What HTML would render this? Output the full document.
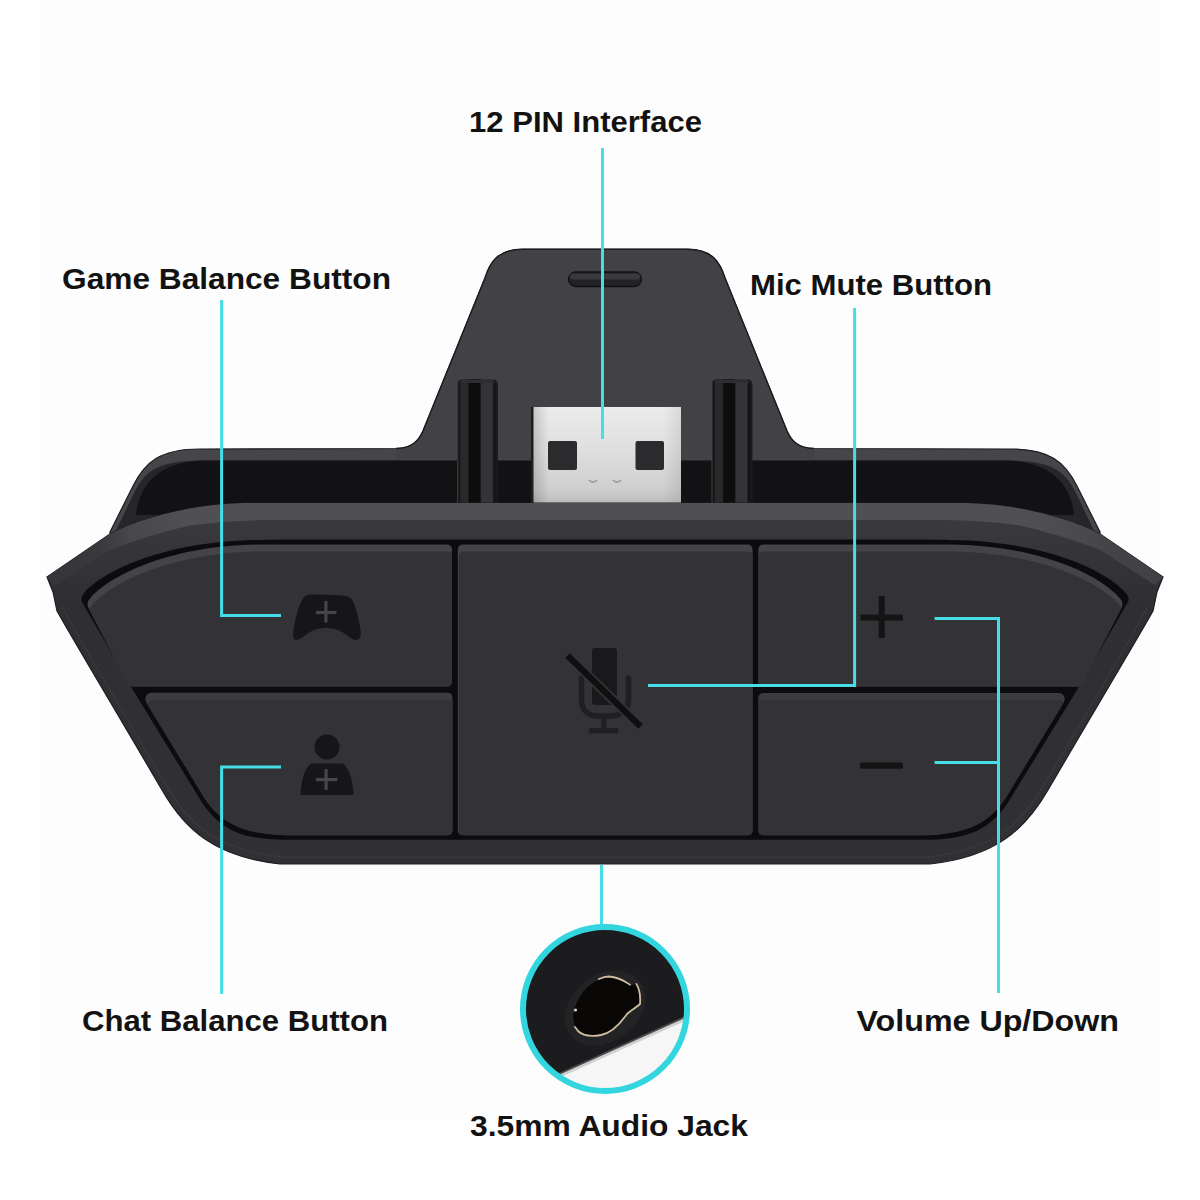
<!DOCTYPE html>
<html>
<head>
<meta charset="utf-8">
<style>
html,body{margin:0;padding:0;background:#fefefe;}
body{width:1200px;height:1200px;overflow:hidden;position:relative;}
svg{position:absolute;left:0;top:0;display:block;}
.lbl{font-family:"Liberation Sans",sans-serif;font-weight:bold;font-size:29px;fill:#121212;}
</style>
</head>
<body>
<svg width="1200" height="1200" viewBox="0 0 1200 1200">
<defs>
  <linearGradient id="usbG" x1="0" y1="0" x2="0" y2="1">
    <stop offset="0" stop-color="#ececec"/>
    <stop offset="0.5" stop-color="#dddddd"/>
    <stop offset="0.85" stop-color="#cfcfcf"/>
    <stop offset="1" stop-color="#bdbdbd"/>
  </linearGradient>
  <linearGradient id="usbH" x1="0" y1="0" x2="1" y2="0">
    <stop offset="0" stop-color="#000" stop-opacity="0.18"/>
    <stop offset="0.12" stop-color="#000" stop-opacity="0"/>
    <stop offset="0.88" stop-color="#000" stop-opacity="0"/>
    <stop offset="1" stop-color="#000" stop-opacity="0.08"/>
  </linearGradient>
  <linearGradient id="pinG" x1="0" y1="0" x2="1" y2="0">
    <stop offset="0" stop-color="#424144"/>
    <stop offset="0.05" stop-color="#121212"/>
    <stop offset="0.1" stop-color="#29292b"/>
    <stop offset="0.26" stop-color="#29292b"/>
    <stop offset="0.3" stop-color="#0d0d0d"/>
    <stop offset="0.56" stop-color="#0d0d0d"/>
    <stop offset="0.6" stop-color="#343337"/>
    <stop offset="0.86" stop-color="#343337"/>
    <stop offset="0.9" stop-color="#131313"/>
    <stop offset="1" stop-color="#1c1c1c"/>
  </linearGradient>
  <linearGradient id="topFace" x1="40" y1="0" x2="1170" y2="0" gradientUnits="userSpaceOnUse">
    <stop offset="0" stop-color="#353438"/>
    <stop offset="0.053" stop-color="#39383c"/>
    <stop offset="0.08" stop-color="#48474b"/>
    <stop offset="0.13" stop-color="#504f53"/>
    <stop offset="0.87" stop-color="#504f53"/>
    <stop offset="0.92" stop-color="#4a494d"/>
    <stop offset="0.947" stop-color="#444347"/>
    <stop offset="1" stop-color="#414044"/>
  </linearGradient>
  <linearGradient id="shellG" x1="0" y1="519" x2="0" y2="864" gradientUnits="userSpaceOnUse">
    <stop offset="0" stop-color="#3a393d"/>
    <stop offset="0.08" stop-color="#363539"/>
    <stop offset="0.25" stop-color="#2f2e32"/>
    <stop offset="1" stop-color="#313034"/>
  </linearGradient>
  <clipPath id="circClip"><circle cx="605" cy="1009" r="80"/></clipPath>
  <!-- buttons -->
  <path id="bG" d="M 90,598.5 C 108,577 167,545.5 260,544.5 C 275,544.5 290,544.5 300,544.5 L 446.5,544.5 Q 452,544.5 452,550 L 452,681 Q 452,686.5 446.5,686.5 L 133,686.5 Q 129,686.5 127,682 L 88,607 Q 86.5,601.5 90,598.5 Z"/>
  <path id="bC" d="M 150,692.7 L 447,692.7 Q 452.5,692.7 452.5,698 L 452.5,830 Q 452.5,835.3 447,835.3 L 285,835.3 C 244,834 222,824 205,799 L 146,702 Q 143.5,695.5 150,692.7 Z"/>
  <path id="bM" d="M 463.2,544.5 L 747.3,544.5 Q 752.6,544.5 752.6,550 L 752.6,830 Q 752.6,835.3 747.3,835.3 L 463.2,835.3 Q 457.8,835.3 457.8,830 L 457.8,550 Q 457.8,544.5 463.2,544.5 Z"/>
  <path id="bVU" d="M 763.7,544.5 L 910,544.5 C 920,544.5 935,544.5 950,544.5 C 1043,545.5 1102,577 1120,598.5 Q 1123.5,601.5 1122,607 L 1083,682 Q 1081,686.5 1077,686.5 L 764,686.5 Q 758.3,686.5 758.3,681 L 758.3,550 Q 758.3,544.5 763.7,544.5 Z"/>
  <path id="bVD" d="M 763.7,693 L 1060,693 Q 1066.5,695.5 1064,702 L 1005,799 C 988,824 966,834 925,835.3 L 763.7,835.3 Q 758.3,835.3 758.3,830 L 758.3,698.5 Q 758.3,693 763.7,693 Z"/>
  <clipPath id="cG"><use href="#bG"/></clipPath>
  <clipPath id="cC"><use href="#bC"/></clipPath>
  <clipPath id="cM"><use href="#bM"/></clipPath>
  <clipPath id="cVU"><use href="#bVU"/></clipPath>
  <clipPath id="cVD"><use href="#bVD"/></clipPath>
</defs>

<rect x="45" y="0" width="1115" height="1114" fill="#fdfdfd"/>

<!-- tower + back body silhouette (rim color) -->
<path d="M 110,532 L 133,486 C 145,462 160,449 200,449 L 396,448.5 C 413,448 419,440 423,431 L 485,278 C 490,262 498,249.5 522,249.3 L 688,249.3 C 712,249.5 720,262 725,278 L 787,431 C 791,440 797,448 814,448.5 L 1010,449 C 1050,449 1065,462 1077,486 L 1100,532 L 1100,600 L 110,600 Z" fill="#464549" stroke="#1d1c1f" stroke-width="1.2"/>
<!-- back body side walls -->
<path d="M 111.5,540 L 136,489 C 148,467 165,460.5 205,460.5 L 1005,460.5 C 1045,460.5 1062,467 1074,489 L 1098.5,540 Z" fill="#262529"/>
<!-- tower face -->
<path d="M 396,461 L 396,448.5 C 413,448 419,440 423,431 L 485,278 C 490,262 498,249.5 522,249.3 L 688,249.3 C 712,249.5 720,262 725,278 L 787,431 C 791,440 797,448 814,448.5 L 814,461 Z" fill="#424145"/>
<path d="M 396,448.5 C 413,448 419,440 423,431 L 485,278 C 490,262 498,249.5 522,249.3 L 688,249.3 C 712,249.5 720,262 725,278 L 787,431 C 791,440 797,448 814,448.5" fill="none" stroke="#1d1c1f" stroke-width="1.4"/>
<!-- recess -->
<path d="M 136,515 C 139,490 152,462 205,460.5 L 1005,460.5 C 1058,462 1071,490 1074,515 Z" fill="#121113"/>
<!-- slot on tower -->
<rect x="568.5" y="272" width="73" height="14.5" rx="7.2" fill="#232226" stroke="#121113" stroke-width="1.3"/>
<rect x="570" y="273.5" width="70" height="6" rx="3" fill="#3a393d"/>

<!-- pins -->
<path d="M 457,386 C 457,380 460,379 466,379 L 489,379 C 495,379 498,380 498,386 L 498,503 L 457,503 Z" fill="url(#pinG)"/>
<path d="M 460,383 C 461,380 463,379.5 467,379.5 L 488,379.5 C 492,379.5 494,380 495,383 Z" fill="#2e2e30"/>
<path d="M 711.5,386 C 711.5,380 714.5,379 720.5,379 L 743.5,379 C 749.5,379 752.5,380 752.5,386 L 752.5,503 L 711.5,503 Z" fill="url(#pinG)"/>
<path d="M 714.5,383 C 715.5,380 717.5,379.5 721.5,379.5 L 742.5,379.5 C 746.5,379.5 748.5,380 749.5,383 Z" fill="#2e2e30"/>

<!-- usb -->
<rect x="531" y="407" width="150" height="96" fill="url(#usbG)"/>
<rect x="531" y="407" width="150" height="96" fill="url(#usbH)"/>
<rect x="531" y="407" width="2.5" height="96" fill="#1e1e1e"/>
<rect x="548" y="441" width="29" height="29" rx="2" fill="#2b2a2c"/>
<rect x="635.5" y="441" width="28.5" height="29" rx="2" fill="#2b2a2c"/>
<path d="M 589,480 q 4,4 8,0" stroke="#9a9a9a" stroke-width="1.5" fill="none"/>
<path d="M 613,480 q 4,4 8,0" stroke="#9a9a9a" stroke-width="1.5" fill="none"/>

<!-- front shell -->
<path d="M 47,577 L 110,534 C 125,526 150,516 190,508.5 C 205,506 220,503.5 250,503 L 960,503 C 990,503.5 1005,506 1020,508.5 C 1060,516 1085,526 1100,534 L 1163,577 L 1157,592 L 1153,611 C 1135,643 1090,718 1048,790 C 1025,830 995,857 930,864 L 280,864 C 215,857 185,830 162,790 C 120,718 75,643 57,611 L 53,592 Z" fill="url(#shellG)" stroke="#1e1d20" stroke-width="1.2"/>
<!-- shell top face -->
<path d="M 47,577 L 110,534 C 125,526 150,516 190,508.5 C 205,506 220,503.5 250,503 L 960,503 C 990,503.5 1005,506 1020,508.5 C 1060,516 1085,526 1100,534 L 1163,577 L 1155,585 L 1100,550 C 1085,544 1060,535 1020,525.5 C 1000,522.5 980,521 950,520 L 260,520 C 230,521 210,522.5 190,525.5 C 150,535 125,544 110,550 L 55,585 Z" fill="url(#topFace)"/>
<!-- side bevel lines -->
<path d="M 62,606 C 80,640 125,716 168,788 C 190,826 218,850 282,857 L 928,857 C 992,850 1020,826 1042,788 C 1085,716 1130,640 1148,606" fill="none" stroke="#39383c" stroke-width="1.5"/>

<!-- button area recess (black) -->
<path d="M 84,593 C 103,571.5 163,541 260,540 C 275,539.6 290,539.5 300,539.5 L 910,539.5 C 920,539.5 935,539.6 950,540 C 1047,541 1107,571.5 1126,593 Q 1130,598 1128,602 L 1077,690 L 1009,801 C 990,830 968,839.5 925,839.8 L 285,839.8 C 242,839.5 220,830 201,801 L 133,690 L 82,602 Q 80,598 84,593 Z" fill="#0c0b0d"/>

<!-- buttons: highlight (full) then face offset down -->
<g fill="#444347">
  <use href="#bG"/><use href="#bM"/><use href="#bVU"/>
</g>
<g fill="#3c3b3f">
  <use href="#bC"/><use href="#bVD"/>
</g>
<g fill="#333236">
  <g clip-path="url(#cG)"><use href="#bG" transform="translate(2,7)"/></g>
  <g clip-path="url(#cC)"><use href="#bC" transform="translate(2,7)"/></g>
  <g clip-path="url(#cM)"><use href="#bM" transform="translate(1,7)"/></g>
  <g clip-path="url(#cVU)"><use href="#bVU" transform="translate(0,7)"/></g>
  <g clip-path="url(#cVD)"><use href="#bVD" transform="translate(0,7)"/></g>
</g>

<!-- icons -->
<!-- controller -->
<path d="M 304,597 C 307,594 311,594.3 316,594.5 L 338,595.2 C 344,595.5 349,596 352,599.5 C 356,606 359,620 360.5,630 C 361.5,637 359,640 356.5,640 C 353,640 349,637 345,634 C 340,630 333,628 326,628 C 319,628 312,630 307,634 C 303,637 299,640 296,640 C 293.5,640 292.8,637 293.5,631 C 295,618 299,604 304,597 Z" fill="#161517"/>
<rect x="324.3" y="601" width="3.2" height="21.5" fill="#46454a"/>
<rect x="316" y="610.9" width="20.5" height="3.2" fill="#46454a"/>
<!-- person -->
<circle cx="327" cy="747" r="12.5" fill="#161517"/>
<path d="M 311,763.5 L 343,763.5 C 349,768 353,780 353.5,795 L 300.5,795 C 301,780 305,768 311,763.5 Z" fill="#161517"/>
<rect x="324.5" y="769" width="3.2" height="21" fill="#46454a"/>
<rect x="316" y="778" width="21.5" height="3.2" fill="#46454a"/>
<!-- mic -->
<rect x="592" y="648" width="25" height="57" rx="3" fill="#19181a"/>
<path d="M 581.5,678 L 581.5,700 C 581.5,710 588,716 598,716 L 611,716 C 621,716 628.5,710 628.5,700 L 628.5,678" fill="none" stroke="#201f21" stroke-width="5.5" stroke-linecap="round"/>
<rect x="601" y="716" width="5.5" height="13" fill="#201f21"/>
<rect x="588.5" y="728" width="30" height="5.5" rx="2.5" fill="#201f21"/>
<line x1="570" y1="658" x2="638" y2="724" stroke="#333236" stroke-width="10" stroke-linecap="butt"/>
<line x1="567.5" y1="655.5" x2="640.5" y2="726.5" stroke="#0f0f10" stroke-width="6.3" stroke-linecap="butt"/>
<!-- plus / minus -->
<rect x="878.7" y="596" width="6" height="42" fill="#141415"/>
<rect x="860.4" y="614.6" width="42.5" height="6" fill="#141415"/>
<rect x="860" y="762.5" width="43" height="6.3" rx="1.5" fill="#141415"/>

<!-- callout lines -->
<g stroke="#45dde6" stroke-width="3" fill="none">
  <line x1="602.5" y1="148" x2="602.5" y2="439"/>
  <polyline points="221.6,300 221.6,615.4 281,615.4"/>
  <polyline points="221.6,994 221.6,767 281,767"/>
  <polyline points="854.6,308 854.6,685.5 648,685.5"/>
  <polyline points="934.6,618.5 998.5,618.5 998.5,993"/>
  <line x1="934.6" y1="762.5" x2="998.5" y2="762.5"/>
  <line x1="601.5" y1="865" x2="601.5" y2="925"/>
</g>

<!-- audio jack inset -->
<g clip-path="url(#circClip)">
  <rect x="520" y="924" width="170" height="170" fill="#1c1b1d"/>
  <polygon points="500,1099.5 720,1000.2 720,1100 500,1100" fill="#4a494c"/>
  <polygon points="500,1101.5 720,1002.2 720,1100 500,1100" fill="#d0d0d0"/>
  <polygon points="500,1104.5 720,1005.2 720,1100 500,1100" fill="#f6f6f6"/>
  <ellipse cx="605" cy="1008" rx="44" ry="33" transform="rotate(-38 605 1008)" fill="#232224"/>
  <path d="M 609,977 C 620,978 628,983 631,985 L 637.5,984 C 641,990 641.5,998 640,1004 C 636,1008 631,1010 627,1014 C 620,1024 612,1033 600,1035.5 C 592,1037 582,1037 576,1029 C 572,1020 573,1012 576,1005 C 580,994 590,980 609,977 Z" fill="#090706"/>
  <path d="M 599,979 C 603,977 606,976.5 609,976.5 C 619,977 626,982 630,984.7 M 636.5,984 C 640,990 640.5,998 640,1004 C 636,1008 631,1010 627,1014 C 620,1024 612,1033 601,1035 C 593,1036.5 584,1037 578,1031 L 575,1027" fill="none" stroke="#cbbb9f" stroke-width="1.8" stroke-linecap="round"/>
  <circle cx="575.5" cy="1010" r="1.6" fill="#d8d0c0"/>
</g>
<circle cx="605" cy="1009" r="82" fill="none" stroke="#33d5df" stroke-width="6"/>

<!-- labels -->
<text class="lbl" x="469" y="131.5" textLength="233" lengthAdjust="spacingAndGlyphs">12 PIN Interface</text>
<text class="lbl" x="62" y="289" textLength="329" lengthAdjust="spacingAndGlyphs">Game Balance Button</text>
<text class="lbl" x="750" y="294.5" textLength="242" lengthAdjust="spacingAndGlyphs">Mic Mute Button</text>
<text class="lbl" x="82" y="1031" textLength="306" lengthAdjust="spacingAndGlyphs">Chat Balance Button</text>
<text class="lbl" x="856.5" y="1030.5" textLength="262.5" lengthAdjust="spacingAndGlyphs">Volume Up/Down</text>
<text class="lbl" x="470" y="1135.5" textLength="278" lengthAdjust="spacingAndGlyphs">3.5mm Audio Jack</text>
</svg>
</body>
</html>
